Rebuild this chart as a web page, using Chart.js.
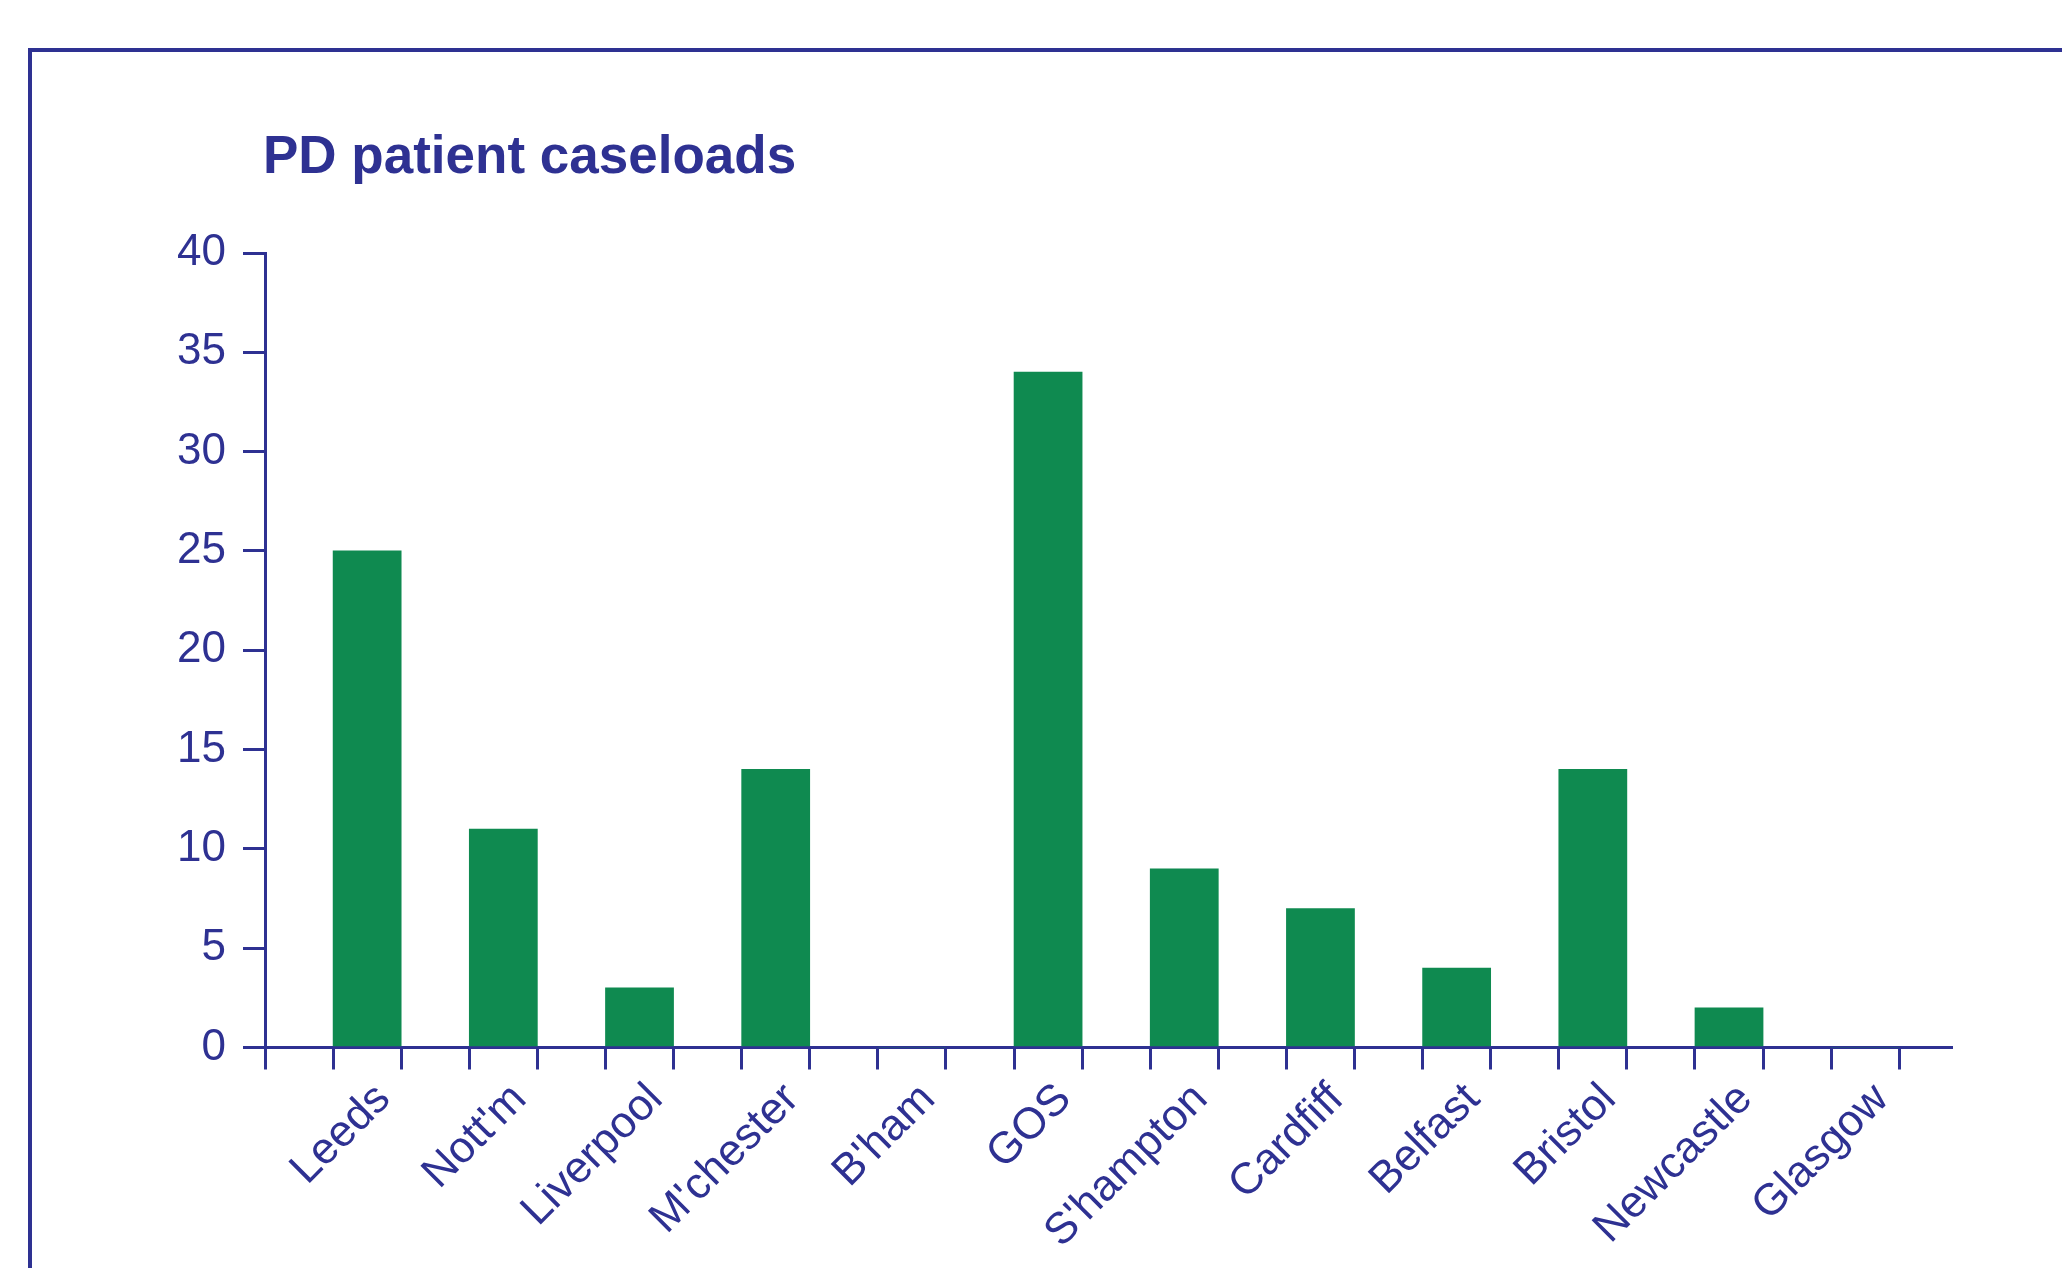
<!DOCTYPE html>
<html>
<head>
<meta charset="utf-8">
<title>PD patient caseloads</title>
<script src="https://cdn.jsdelivr.net/npm/chart.js@4.4.0/dist/chart.umd.min.js"></script>
<style>
body { margin:0; background:#fff; width:2062px; height:1268px; overflow:hidden; position:relative; font-family:'Liberation Sans', Arial, sans-serif; }
.frame { position:absolute; left:28px; top:48px; right:0; height:1400px; border-top:4px solid #2e3192; border-left:4px solid #2e3192; }
.title { position:absolute; left:263px; top:128px; font-size:53px; line-height:53px; font-weight:bold; color:#2e3192; white-space:nowrap; }
#chart { position:absolute; left:0; top:0; }
</style>
</head>
<body>
<div class="frame"></div>
<div class="title">PD patient caseloads</div>
<canvas id="chart" width="2062" height="1268"></canvas>
<script>
// centres and caseload counts
const categories = ['Leeds', "Nott'm", 'Liverpool', "M'chester", "B'ham", 'GOS', "S'hampton", 'Cardfiff', 'Belfast', 'Bristol', 'Newcastle', 'Glasgow'];
const caseloads = [25, 11, 3, 14, 0, 34, 9, 7, 4, 14, 2, 0];
const yTicks = [0, 5, 10, 15, 20, 25, 30, 35, 40];

blue = '#2e3192';
green = '#0f8a50';

// x runs on a linear scale so the tick marks can sit on both bar edges
xMin = -0.75;
xMax = 11.63;
labelShift = 0.12;

Chart.defaults.font.family = "'Liberation Sans', Arial, sans-serif";
Chart.defaults.color = blue;

const ctx = document.getElementById('chart').getContext('2d');
const myChart = new Chart(ctx, {
    type: 'bar',
    data: {
        datasets: [{
            label: 'PD patient caseloads',
            data: categories.map((c, i) => ({x: i, y: caseloads[i]})),
            backgroundColor: green,
            borderWidth: 0,
            // tick marks are half a category apart, so a full "bar slot" is the bar itself
            barPercentage: 1,
            categoryPercentage: 1,
            xAxisID: 'x',
            yAxisID: 'y'
        }]
    },
    options: {
        responsive: false,
        animation: false,
        layout: { padding: { left: 0, top: 253, right: 111, bottom: 0 } },
        plugins: { legend: { display: false }, tooltip: { enabled: false } },
        scales: {
            x: {
                type: 'linear',
                position: 'bottom',
                weight: 0,
                offset: false,
                min: xMin,
                max: xMax,
                afterBuildTicks: function(scale) {
                    ticks = [];
                    categories.forEach((c, i) => {
                        ticks.push({value: i - 0.75});
                        ticks.push({value: i - 0.25});
                    });
                    ticks.push({value: categories.length - 0.75});
                    scale.ticks = ticks;
                },
                ticks: { display: false },
                grid: { offset: false, drawOnChartArea: false, tickLength: 22, color: blue, lineWidth: 3 },
                border: { color: blue, width: 3 }
            },
            xl: {
                type: 'linear',
                position: 'bottom',
                weight: 1,
                offset: false,
                min: xMin,
                max: xMax,
                afterBuildTicks: function(scale) {
                    scale.ticks = categories.map((c, i) => ({value: i + labelShift}));
                },
                afterFit: function(scale) { scale.height = 1268 - 1047.5 - 22; },
                ticks: {
                    autoSkip: false,
                    minRotation: 45,
                    maxRotation: 45,
                    padding: 4,
                    color: blue,
                    font: { size: 44 },
                    callback: function(v, idx) { return categories[idx]; }
                },
                grid: { offset: false, display: false, drawTicks: false },
                border: { display: false }
            },
            y: {
                min: yTicks[0],
                max: yTicks[yTicks.length - 1],
                afterFit: function(scale) { scale.width = 265; },
                afterBuildTicks: function(scale) {
                    scale.ticks = yTicks.map(v => ({value: v}));
                },
                ticks: { color: blue, padding: 17, font: { size: 44 } },
                grid: { drawOnChartArea: false, tickLength: 22, color: blue, lineWidth: 3 },
                border: { color: blue, width: 3 }
            }
        }
    }
});
</script>
</body>
</html>
